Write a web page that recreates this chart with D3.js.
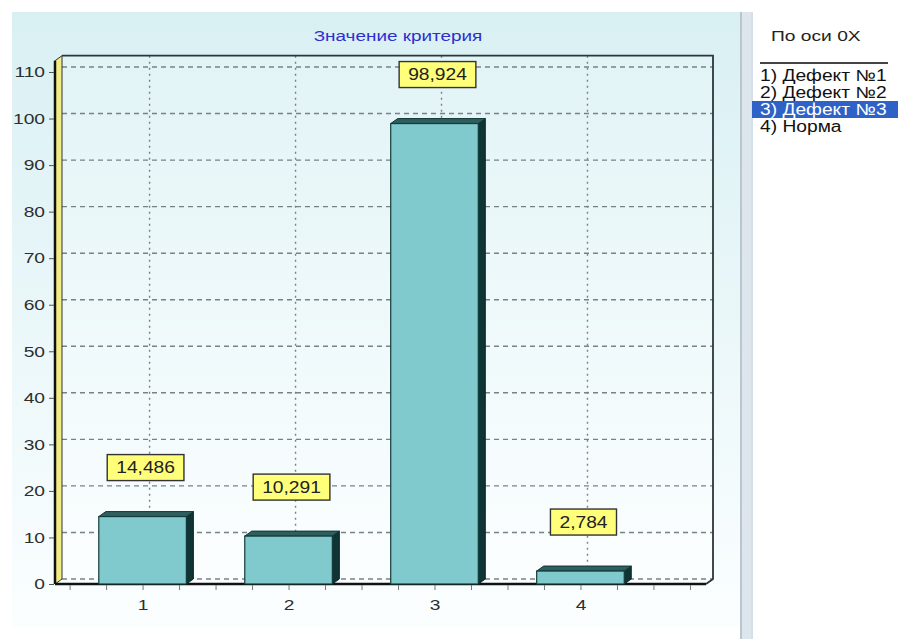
<!DOCTYPE html>
<html>
<head>
<meta charset="utf-8">
<script src="https://cdn.jsdelivr.net/npm/d3@7"></script>
<style>
  body { margin: 0; background: #fff; }
  text { font-family: Arial, "Liberation Sans", sans-serif; }
</style>
</head>
<body>
<script>
var categories = [1, 2, 3, 4];
var values = [14.486, 10.291, 98.924, 2.784];
var valueLabels = ["14,486", "10,291", "98,924", "2,784"];
var yTicks = [0, 10, 20, 30, 40, 50, 60, 70, 80, 90, 100, 110];
var legendItems = ["1) Дефект №1", "2) Дефект №2", "3) Дефект №3", "4) Норма"];
var selectedItem = 2;
var title = "Значение критерия";
var legendTitle = "По оси 0X";

var width = 899, height = 639;
var dx = 7, dy = -5; // 3d depth
var wide = 1.28;     // the old screenshot is stretched sideways

// stretch text horizontally, like the source picture
function stretch(sel, k) {
    sel.each(function() {
        var len = this.getComputedTextLength();
        if (len > 0) {
            d3.select(this).attr("textLength", len * k).attr("lengthAdjust", "spacingAndGlyphs");
        }
    });
}

var svg = d3.select("body").append("svg")
    .attr("width", width)
    .attr("height", height);

var defs = svg.append("defs");
var g1 = defs.append("linearGradient").attr("id", "panelGrad")
    .attr("x1", 0).attr("y1", 0).attr("x2", 0).attr("y2", 1);
g1.append("stop").attr("offset", "0%").attr("stop-color", "#d9f0f3");
g1.append("stop").attr("offset", "100%").attr("stop-color", "#fbfeff");
var g2 = defs.append("linearGradient").attr("id", "wallGrad")
    .attr("x1", 0).attr("y1", 0).attr("x2", 0).attr("y2", 1);
g2.append("stop").attr("offset", "0%").attr("stop-color", "#e2f4f6");
g2.append("stop").attr("offset", "100%").attr("stop-color", "#fbfeff");

// outer panel
svg.append("rect")
    .attr("x", 12).attr("y", 12).attr("width", 728).attr("height", 615)
    .attr("fill", "url(#panelGrad)");

// divider
svg.append("rect")
    .attr("x", 740).attr("y", 12).attr("width", 13).attr("height", 627)
    .attr("fill", "#dde6ec");
svg.append("line").attr("x1", 741).attr("x2", 741).attr("y1", 12).attr("y2", 639)
    .attr("stroke", "#b9c6cf").attr("stroke-width", 2);
svg.append("line").attr("x1", 752).attr("x2", 752).attr("y1", 12).attr("y2", 639)
    .attr("stroke", "#c9d9e6").attr("stroke-width", 1);

var y = d3.scaleLinear().domain([0, 110]).range([584, 72]);
var x = d3.scaleLinear().domain([0.4, 4.86]).range([55, 706]);

var plotLeft = x.range()[0], plotRight = x.range()[1];
var plotTop = y(113.5) - dy; // front top
var plotBottom = y(0);

// back wall
svg.append("rect")
    .attr("x", plotLeft + dx).attr("y", plotTop + dy)
    .attr("width", plotRight - plotLeft).attr("height", plotBottom - plotTop)
    .attr("fill", "url(#wallGrad)");

// horizontal grid
svg.append("g").selectAll("line")
    .data(yTicks)
    .enter().append("line")
    .attr("x1", plotLeft + dx).attr("x2", plotRight + dx)
    .attr("y1", function(d) { return y(d) + dy; })
    .attr("y2", function(d) { return y(d) + dy; })
    .attr("stroke", "#7a8184")
    .attr("stroke-width", 1.4)
    .attr("stroke-dasharray", "5,4");

// vertical grid
svg.append("g").selectAll("line")
    .data(categories)
    .enter().append("line")
    .attr("x1", function(d) { return x(d) + dx; })
    .attr("x2", function(d) { return x(d) + dx; })
    .attr("y1", plotTop + dy).attr("y2", plotBottom + dy)
    .attr("stroke", "#7a8184")
    .attr("stroke-width", 1.4)
    .attr("stroke-dasharray", "2,4");

// wall border (top + right + floor corner)
svg.append("path")
    .attr("d", "M" + (plotLeft + dx) + "," + (plotTop + dy) + "H" + (plotRight + dx) + "V" + (plotBottom + dy) +
        "L" + plotRight + "," + plotBottom)
    .attr("fill", "none")
    .attr("stroke", "#2b3838")
    .attr("stroke-width", 1.8);

// left yellow wall
svg.append("path")
    .attr("d", "M" + plotLeft + "," + plotBottom + "V" + plotTop + "L" + (plotLeft + dx) + "," + (plotTop + dy) +
        "V" + (plotBottom + dy) + "Z")
    .attr("fill", "#f2ec84")
    .attr("stroke", "#333")
    .attr("stroke-width", 1);
svg.append("line")
    .attr("x1", plotLeft).attr("x2", plotLeft).attr("y1", plotTop).attr("y2", plotBottom)
    .attr("stroke", "#111").attr("stroke-width", 2.5);

// floor front line
svg.append("line")
    .attr("x1", plotLeft).attr("x2", plotRight).attr("y1", plotBottom).attr("y2", plotBottom)
    .attr("stroke", "#111").attr("stroke-width", 2.5);

// bars
var half = 0.3;
var bars = svg.append("g").selectAll("g")
    .data(categories.map(function(c, i) { return {c: c, v: values[i], label: valueLabels[i]}; }))
    .enter().append("g");

bars.append("path") // right side
    .attr("d", function(d) {
        var x1 = x(d.c + half), yt = y(d.v);
        return "M" + x1 + "," + yt + "L" + (x1 + dx) + "," + (yt + dy) +
            "V" + (plotBottom + dy) + "L" + x1 + "," + plotBottom + "Z";
    })
    .attr("fill", "#0f3434")
    .attr("stroke", "#0b2626").attr("stroke-width", 1);

bars.append("path") // top cap
    .attr("d", function(d) {
        var x0 = x(d.c - half), x1 = x(d.c + half), yt = y(d.v);
        return "M" + x0 + "," + yt + "L" + (x0 + dx) + "," + (yt + dy) +
            "H" + (x1 + dx) + "L" + x1 + "," + yt + "Z";
    })
    .attr("fill", "#2e5f5f")
    .attr("stroke", "#143838").attr("stroke-width", 1);

bars.append("rect") // front
    .attr("x", function(d) { return x(d.c - half); })
    .attr("y", function(d) { return y(d.v); })
    .attr("width", function(d) { return x(d.c + half) - x(d.c - half); })
    .attr("height", function(d) { return plotBottom - y(d.v); })
    .attr("fill", "#80c9cd")
    .attr("stroke", "#153a3a").attr("stroke-width", 1.2);

// value labels
var lab = bars.append("g")
    .attr("transform", function(d) { return "translate(" + (x(d.c) + 3) + "," + (y(d.v) - 49) + ")"; });
var box = lab.append("rect")
    .attr("y", -13)
    .attr("height", 26)
    .attr("fill", "#ffff7a")
    .attr("stroke", "#333").attr("stroke-width", 1.4);
var labText = lab.append("text")
    .attr("text-anchor", "middle")
    .attr("dy", "0.36em")
    .attr("font-size", 16)
    .attr("fill", "#222")
    .text(function(d) { return d.label; });
var labW = labText.nodes().map(function(n) { return n.getComputedTextLength() * 1.2; });
stretch(labText, 1.2);
box.attr("x", function(d, i) { return -(labW[i] + 18) / 2; })
    .attr("width", function(d, i) { return labW[i] + 18; });

// y axis
var yAxis = svg.append("g")
    .attr("transform", "translate(" + (plotLeft - 1) + ",0)")
    .call(d3.axisLeft(y).tickValues(yTicks).tickSize(5).tickPadding(4));
yAxis.select(".domain").remove();
yAxis.selectAll("line").attr("stroke", "#555");
yAxis.selectAll("text")
    .attr("font-size", 15)
    .attr("font-family", "Arial, 'Liberation Sans', sans-serif")
    .attr("fill", "#2e2e2e");
stretch(yAxis.selectAll("text"), wide);

// x axis
var minor = d3.range(0.5, 4.8, 0.25);
var xAxis = svg.append("g")
    .attr("transform", "translate(0," + (plotBottom + 1) + ")")
    .call(d3.axisBottom(x).tickValues(minor).tickSize(5).tickPadding(9)
        .tickFormat(function(d) { return categories.indexOf(d) >= 0 ? d : ""; }));
xAxis.select(".domain").remove();
xAxis.selectAll("line").attr("stroke", "#777");
xAxis.selectAll("text")
    .attr("font-size", 15)
    .attr("font-family", "Arial, 'Liberation Sans', sans-serif")
    .attr("fill", "#2e2e2e");
stretch(xAxis.selectAll("text"), wide);

// title
var t = svg.append("text")
    .attr("x", 398).attr("y", 41)
    .attr("text-anchor", "middle")
    .attr("font-size", 14)
    .attr("fill", "#2f2fcf")
    .text(title);
stretch(t, 1.35);

// legend panel
var lt = svg.append("text")
    .attr("x", 771).attr("y", 41)
    .attr("font-size", 15)
    .attr("fill", "#222")
    .text(legendTitle);
stretch(lt, wide);
svg.append("line")
    .attr("x1", 760).attr("x2", 888).attr("y1", 63).attr("y2", 63)
    .attr("stroke", "#444").attr("stroke-width", 2);

var rowH = 17;
var items = svg.append("g").selectAll("g")
    .data(legendItems)
    .enter().append("g")
    .attr("transform", function(d, i) { return "translate(760," + (67 + i * rowH) + ")"; });
items.filter(function(d, i) { return i === selectedItem; })
    .append("rect")
    .attr("x", -8).attr("y", 0).attr("width", 146).attr("height", rowH)
    .attr("fill", "#2f62c6");
var it = items.append("text")
    .attr("x", 0).attr("y", 14)
    .attr("font-size", 16)
    .attr("fill", function(d, i) { return i === selectedItem ? "#fff" : "#111"; })
    .text(function(d) { return d; });
stretch(it, 1.2);
</script>
</body>
</html>
